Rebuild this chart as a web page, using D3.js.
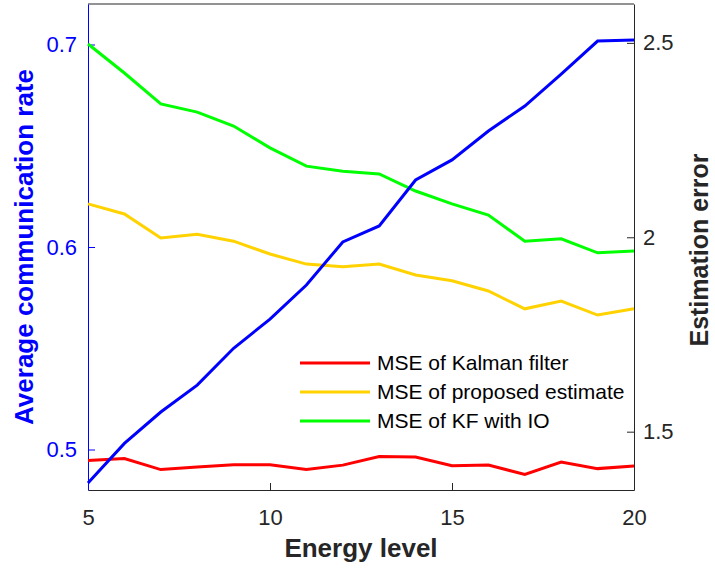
<!DOCTYPE html>
<html>
<head>
<meta charset="utf-8">
<script src="https://cdn.jsdelivr.net/npm/d3@7"></script>
<style>
  body { margin: 0; background: #fff; }
  svg { display: block; font-family: Helvetica, Arial, "Liberation Sans", sans-serif; }
</style>
</head>
<body>
<svg id="chart" width="715" height="569"></svg>
<script>
// energy levels on the x axis
const energy = [5, 6, 7, 8, 9, 10, 11, 12, 13, 14, 15, 16, 17, 18, 19, 20];

// left axis: average communication rate
const commRate = [0.4835, 0.503, 0.5185, 0.5318, 0.550, 0.5644, 0.5812, 0.6025,
                  0.6104, 0.6331, 0.643, 0.6573, 0.6696, 0.6854, 0.7017, 0.7022];

// right axis: estimation errors
const mseKalman = [1.426, 1.431, 1.4025, 1.409, 1.415, 1.415, 1.4025, 1.414,
                   1.436, 1.435, 1.4125, 1.414, 1.390, 1.422, 1.405, 1.412];
const mseProposed = [2.086, 2.060, 1.998, 2.008, 1.990, 1.957, 1.931, 1.924,
                     1.931, 1.903, 1.888, 1.862, 1.816, 1.836, 1.800, 1.816];
const mseKfIo = [2.497, 2.4225, 2.343, 2.322, 2.286, 2.230, 2.183, 2.170,
                 2.163, 2.119, 2.086, 2.057, 1.990, 1.996, 1.960, 1.965];

const xTicks = [5, 10, 15, 20];
const leftTicks = [0.5, 0.6, 0.7];
const rightTicks = [1.5, 2, 2.5];

const seriesNames = ["MSE of Kalman filter", "MSE of proposed estimate", "MSE of KF with IO"];
const seriesColors = ["#ff0000", "#ffd200", "#00ff00"];

const margin = {top: 4, right: 81, bottom: 79, left: 88};
const width = 715 - margin.left - margin.right;
const height = 569 - margin.top - margin.bottom;
const axisColor = "#262626";

const svg = d3.select("#chart");
const g = svg.append("g")
    .attr("transform", "translate(" + margin.left + "," + margin.top + ")");

const x = d3.scaleLinear().domain([5, 20]).range([0, width]);
const yL = d3.scaleLinear().domain([0.48, 0.72]).range([height, 0]);
const yR = d3.scaleLinear().domain([1.35, 2.6]).range([height, 0]);

// top edge of the box
g.append("line").attr("x1", 0).attr("x2", width).attr("y1", 0).attr("y2", 0)
    .attr("stroke", axisColor).attr("stroke-width", 1);

const xAxis = g.append("g")
    .attr("transform", "translate(0," + height + ")")
    .call(d3.axisBottom(x).tickValues(xTicks).tickFormat(d3.format("d"))
        .tickSize(-7).tickSizeOuter(0).tickPadding(19));
xAxis.select(".domain").attr("stroke", axisColor);
xAxis.selectAll(".tick line").attr("stroke", axisColor);
xAxis.selectAll("text").attr("fill", axisColor).attr("font-size", 22);

const rAxis = g.append("g")
    .attr("transform", "translate(" + width + ",0)")
    .call(d3.axisRight(yR).tickValues(rightTicks).tickFormat(d => d)
        .tickSize(-7).tickSizeOuter(0).tickPadding(9));
rAxis.select(".domain").attr("stroke", axisColor);
rAxis.selectAll(".tick line").attr("stroke", axisColor);
rAxis.selectAll("text").attr("fill", axisColor).attr("font-size", 22);

const lAxis = g.append("g")
    .call(d3.axisLeft(yL).tickValues(leftTicks).tickFormat(d3.format(".1f"))
        .tickSize(-7).tickSizeOuter(0).tickPadding(11));
lAxis.select(".domain").attr("stroke", "#0000ff");
lAxis.selectAll(".tick line").attr("stroke", "#0000ff");
lAxis.selectAll("text").attr("fill", "#0000ff").attr("font-size", 22);

// lines
const lineL = d3.line().x((d, i) => x(energy[i])).y(d => yL(d));
const lineR = d3.line().x((d, i) => x(energy[i])).y(d => yR(d));

[mseKalman, mseProposed, mseKfIo].forEach((s, i) => {
    g.append("path")
        .attr("d", lineR(s))
        .attr("fill", "none")
        .attr("stroke", seriesColors[i])
        .attr("stroke-width", 3);
});

g.append("path")
    .attr("d", lineL(commRate))
    .attr("fill", "none")
    .attr("stroke", "#0000ff")
    .attr("stroke-width", 3);

// legend
const legend = g.append("g").attr("transform", "translate(212,359)");
seriesNames.forEach((name, i) => {
    const row = legend.append("g").attr("transform", "translate(0," + (i * 29) + ")");
    row.append("line").attr("x1", 0).attr("x2", 70).attr("y1", 0).attr("y2", 0)
        .attr("stroke", seriesColors[i]).attr("stroke-width", 3);
    row.append("text").attr("x", 77).attr("dy", "0.35em")
        .attr("font-size", 21).attr("fill", "#000").text(name);
});

// axis titles
svg.append("text")
    .attr("transform", "translate(33," + (margin.top + height / 2) + ") rotate(-90)")
    .attr("text-anchor", "middle")
    .attr("font-size", 26).attr("font-weight", "bold").attr("fill", "#0000ff")
    .text("Average communication rate");

svg.append("text")
    .attr("transform", "translate(708," + (margin.top + height / 2 + 3) + ") rotate(-90)")
    .attr("text-anchor", "middle")
    .attr("font-size", 25).attr("font-weight", "bold").attr("fill", axisColor)
    .text("Estimation error");

svg.append("text")
    .attr("x", margin.left + width / 2).attr("y", 557)
    .attr("text-anchor", "middle")
    .attr("font-size", 26).attr("font-weight", "bold").attr("fill", axisColor)
    .text("Energy level");
</script>
</body>
</html>
